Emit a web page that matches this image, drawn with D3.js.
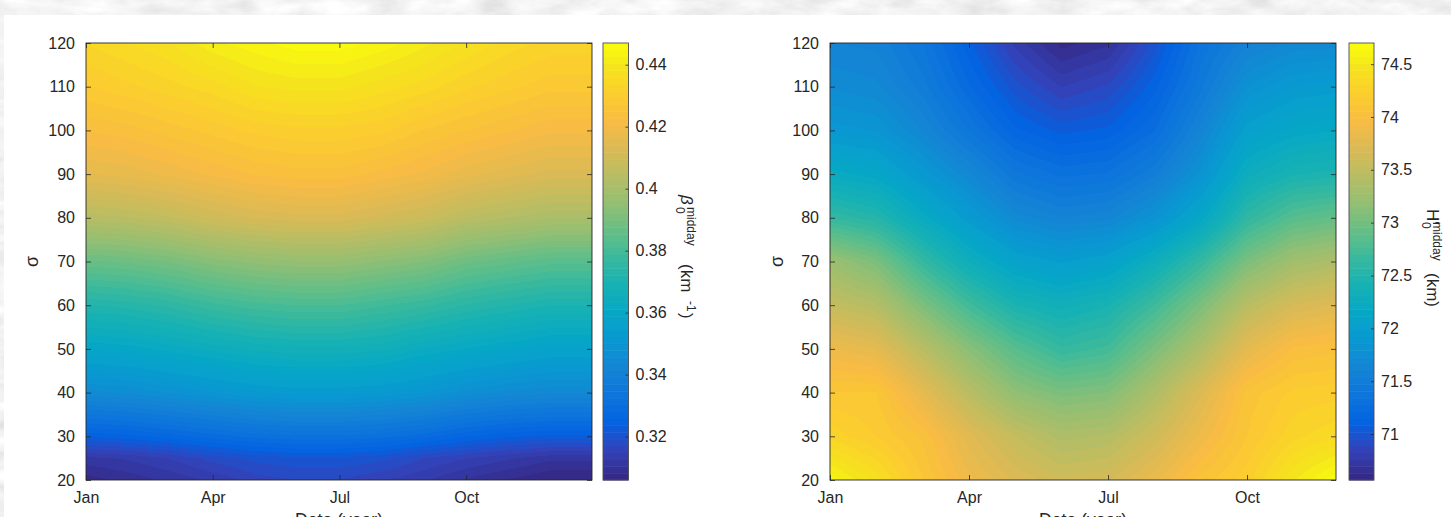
<!DOCTYPE html>
<html>
<head>
<meta charset="utf-8">
<script src="https://cdn.jsdelivr.net/npm/d3@7"></script>
<style>
  body { margin: 0; background: #fff; }
  svg text { font-family: 'Liberation Sans', Arial, sans-serif; fill: #262626; }
</style>
</head>
<body>
<div id="chart"></div>
<script>
'use strict';

// ---- data ----
var monthNodesBeta = [1, 2, 3, 4, 5, 6, 7, 8, 9, 10, 11, 12, 13];
var monthNodesH = [1, 2, 3, 4, 5, 6, 7, 8, 9, 10, 11, 12];
var sigmaNodesBeta = [20, 25, 30, 40, 50, 60, 70, 80, 90, 100, 110, 120];
var sigmaNodesH = [20, 30, 40, 50, 60, 70, 80, 90, 100, 110, 120];
var xTickMonths = [1, 4, 7, 10];
var xTickLabels = ['Jan', 'Apr', 'Jul', 'Oct'];
var sigmaTicks = [20, 30, 40, 50, 60, 70, 80, 90, 100, 110, 120];

// beta0 midday (km^-1), rows from sigma 20 upward, columns Jan..Jan
var betaRows = [
  [.307, .309, .311, .313, .316, .317, .317, .315, .313, .310, .308, .306, .306],
  [.312, .313, .315, .318, .320, .321, .321, .320, .317, .315, .313, .311, .311],
  [.324, .325, .327, .329, .331, .332, .332, .331, .329, .326, .324, .323, .323],
  [.345, .346, .348, .350, .352, .353, .353, .352, .350, .347, .345, .344, .344],
  [.359, .360, .362, .364, .366, .367, .367, .366, .363, .361, .359, .357, .357],
  [.372, .373, .375, .378, .380, .381, .381, .379, .377, .374, .372, .370, .370],
  [.387, .388, .390, .393, .395, .396, .396, .394, .392, .388, .386, .384, .384],
  [.404, .405, .407, .410, .412, .413, .413, .411, .409, .405, .403, .401, .401],
  [.416, .417, .419, .421, .423, .424, .424, .422, .420, .417, .415, .413, .413],
  [.423, .424, .426, .428, .430, .431, .431, .430, .427, .425, .423, .421, .421],
  [.429, .431, .433, .435, .438, .439, .439, .437, .435, .432, .430, .428, .428],
  [.434, .436, .438, .442, .444, .446, .446, .444, .441, .438, .435, .433, .433]
];

// H'0 midday (km), rows from sigma 20 upward, columns Jan..Dec
var hRows = [
  [74.62, 74.42, 74.12, 73.88, 73.72, 73.62, 73.66, 73.84, 74.08, 74.22, 74.50, 74.70],
  [74.29, 74.18, 74.04, 73.76, 73.54, 73.38, 73.42, 73.62, 73.88, 74.12, 74.29, 74.37],
  [74.12, 74.12, 73.80, 73.46, 73.17, 73.05, 73.09, 73.38, 73.72, 74.08, 74.20, 74.22],
  [73.87, 73.79, 73.46, 73.13, 72.84, 72.64, 72.72, 73.05, 73.38, 73.79, 74.00, 74.04],
  [73.54, 73.42, 73.06, 72.72, 72.44, 72.34, 72.43, 72.70, 73.05, 73.46, 73.67, 73.75],
  [73.25, 73.05, 72.64, 72.30, 72.06, 71.97, 72.05, 72.30, 72.64, 73.05, 73.29, 73.38],
  [72.63, 72.52, 72.22, 71.94, 71.70, 71.60, 71.64, 71.82, 72.14, 72.60, 72.84, 72.92],
  [72.22, 72.14, 71.90, 71.68, 71.42, 71.32, 71.35, 71.52, 71.82, 72.28, 72.43, 72.47],
  [71.89, 71.85, 71.66, 71.40, 71.16, 71.06, 71.10, 71.27, 71.62, 72.02, 72.14, 72.18],
  [71.72, 71.68, 71.50, 71.22, 70.98, 70.82, 70.90, 71.12, 71.45, 71.80, 71.92, 71.96],
  [71.60, 71.58, 71.40, 71.10, 70.80, 70.60, 70.68, 70.98, 71.35, 71.58, 71.68, 71.70]
];

var betaLimits = [0.306, 0.447];
var betaTicks = [0.32, 0.34, 0.36, 0.38, 0.4, 0.42, 0.44];
var hLimits = [70.565, 74.70];
var hTicks = [71, 71.5, 72, 72.5, 73, 73.5, 74, 74.5];

// parula colormap (MATLAB), stops at entries 0,4,...,60,63 of 64
var parulaIdx = [0, 4, 8, 12, 16, 20, 24, 28, 32, 36, 40, 44, 48, 52, 56, 60, 63];
var parulaHex = ['#352a87', '#3243ba', '#0363e1', '#0d75dc', '#1485d4', '#0998d1', '#06a7c6', '#16b1b4',
  '#38b99e', '#65be86', '#92bf73', '#b7bd64', '#d9ba56', '#f8bb44', '#fccd2e', '#f5e41d', '#f9fb0e'];

var parula = d3.scaleLinear()
  .domain(parulaIdx.map(function(i) { return i / 63; }))
  .range(parulaHex)
  .clamp(true);
var lut = d3.range(64).map(function(i) { return d3.rgb(parula(i / 63)); });

var FONT = "'Liberation Sans', Arial, sans-serif";
var INK = '#262626';

var svg = d3.select('#chart').append('svg')
  .attr('width', 1451)
  .attr('height', 517);

// marble-ish page background behind the white figure
var defs = svg.append('defs');
var marble = defs.append('filter').attr('id', 'marble')
  .attr('x', 0).attr('y', 0).attr('width', '100%').attr('height', '100%');
marble.append('feTurbulence')
  .attr('type', 'fractalNoise')
  .attr('baseFrequency', '0.025 0.06')
  .attr('numOctaves', 4)
  .attr('seed', 7);
marble.append('feColorMatrix')
  .attr('type', 'matrix')
  .attr('values', '0.22 0.22 0.22 0 0.56  0.22 0.22 0.22 0 0.56  0.22 0.22 0.22 0 0.56  0 0 0 0 1');
svg.append('rect').attr('width', 1451).attr('height', 517).attr('filter', 'url(#marble)');
svg.append('rect').attr('x', 4).attr('y', 15).attr('width', 1447).attr('height', 502).attr('fill', '#fff');

function styleAxis(g) {
  g.attr('font-family', FONT).attr('font-size', 16).attr('color', INK);
  g.select('.domain').remove();
  g.selectAll('.tick line').attr('stroke-width', 0.8);
}

function drawPanel(p) {
  var x = d3.scaleLinear().domain(p.xDomain).range([p.left, p.right]);
  var y = d3.scaleLinear().domain([20, 120]).range([p.bottom, p.top]);
  var cNorm = d3.scaleLinear().domain(p.limits).range([0, 1]).clamp(true);

  // heat map, shaded between grid nodes (like pcolor with interp shading)
  var w = Math.round(p.right - p.left), h = Math.round(p.bottom - p.top);
  var canvas = document.createElement('canvas');
  canvas.width = w;
  canvas.height = h;
  var ctx = canvas.getContext('2d');
  var img = ctx.createImageData(w, h);
  var nx = p.months.length, ny = p.sigmas.length;
  for (var j = 0; j < h; j++) {
    var s = y.invert(p.top + j + 0.5);
    var r = Math.min(Math.max(d3.bisectRight(p.sigmas, s) - 1, 0), ny - 2);
    var ty = (s - p.sigmas[r]) / (p.sigmas[r + 1] - p.sigmas[r]);
    for (var i = 0; i < w; i++) {
      var m = x.invert(p.left + i + 0.5);
      var k = Math.min(Math.max(d3.bisectRight(p.months, m) - 1, 0), nx - 2);
      var tx = (m - p.months[k]) / (p.months[k + 1] - p.months[k]);
      var v = (1 - ty) * ((1 - tx) * p.grid[r][k] + tx * p.grid[r][k + 1]) +
        ty * ((1 - tx) * p.grid[r + 1][k] + tx * p.grid[r + 1][k + 1]);
      var col = lut[Math.min(63, Math.floor(cNorm(v) * 64))];
      var o = (j * w + i) * 4;
      img.data[o] = col.r;
      img.data[o + 1] = col.g;
      img.data[o + 2] = col.b;
      img.data[o + 3] = 255;
    }
  }
  ctx.putImageData(img, 0, 0);
  svg.append('image')
    .attr('x', p.left).attr('y', p.top)
    .attr('width', w).attr('height', h)
    .attr('preserveAspectRatio', 'none')
    .attr('href', canvas.toDataURL());

  // axes, ticks inward on all four sides
  svg.append('g')
    .attr('transform', 'translate(0,' + p.bottom + ')')
    .call(d3.axisBottom(x).tickValues(xTickMonths)
      .tickFormat(function(d, i) { return xTickLabels[i]; })
      .tickSize(-5).tickPadding(12))
    .call(styleAxis);
  svg.append('g')
    .attr('transform', 'translate(0,' + p.top + ')')
    .call(d3.axisTop(x).tickValues(xTickMonths).tickFormat('').tickSize(-5))
    .call(styleAxis);
  svg.append('g')
    .attr('transform', 'translate(' + p.left + ',0)')
    .call(d3.axisLeft(y).tickValues(sigmaTicks).tickSize(-5).tickPadding(11))
    .call(styleAxis);
  svg.append('g')
    .attr('transform', 'translate(' + p.right + ',0)')
    .call(d3.axisRight(y).tickValues(sigmaTicks).tickFormat('').tickSize(-5))
    .call(styleAxis);

  svg.append('rect')
    .attr('x', p.left).attr('y', p.top)
    .attr('width', p.right - p.left).attr('height', p.bottom - p.top)
    .attr('fill', 'none').attr('stroke', INK).attr('stroke-width', 0.9);

  svg.append('text')
    .attr('transform', 'translate(' + p.yLabelX + ',' + ((p.top + p.bottom) / 2) + ') rotate(-90)')
    .attr('text-anchor', 'middle')
    .attr('dy', '0.35em')
    .style('font-size', '18px')
    .text('\u03c3');

  svg.append('text')
    .attr('x', (p.left + p.right) / 2)
    .attr('y', p.bottom + 46)
    .attr('text-anchor', 'middle')
    .style('font-size', '17.6px')
    .text('Date (year)');

  // colorbar
  var cy = d3.scaleLinear().domain(p.limits).range([p.bottom, p.top]);
  var span = p.limits[1] - p.limits[0];
  svg.append('g').selectAll('rect')
    .data(d3.range(64))
    .enter().append('rect')
    .attr('x', p.cbLeft)
    .attr('width', p.cbRight - p.cbLeft)
    .attr('y', function(d) { return cy(p.limits[0] + (d + 1) / 64 * span); })
    .attr('height', function(d) {
      return cy(p.limits[0] + d / 64 * span) - cy(p.limits[0] + (d + 1) / 64 * span) + 0.5;
    })
    .attr('fill', function(d) { return lut[d]; });

  svg.append('g')
    .attr('transform', 'translate(' + p.cbRight + ',0)')
    .call(d3.axisRight(cy).tickValues(p.ticks)
      .tickFormat(function(d) { return String(d); })
      .tickSize(-3).tickPadding(7))
    .call(styleAxis);

  svg.append('rect')
    .attr('x', p.cbLeft).attr('y', p.top)
    .attr('width', p.cbRight - p.cbLeft).attr('height', p.bottom - p.top)
    .attr('fill', 'none').attr('stroke', '#4d4d4d').attr('stroke-width', 0.9);

  // colorbar title, rotated to read downwards
  var lab = svg.append('g')
    .attr('transform', 'translate(' + p.cLabelX + ',' + p.cLabelY + ') rotate(90)');
  p.cLabel.forEach(function(piece) {
    lab.append('text')
      .attr('x', piece[0])
      .attr('y', piece[1])
      .style('font-size', piece[2] + 'px')
      .style('font-style', piece[4] ? 'italic' : 'normal')
      .text(piece[3]);
  });
}

drawPanel({
  left: 86, right: 592, top: 43, bottom: 480,
  xDomain: [1, 12.98],
  months: monthNodesBeta, sigmas: sigmaNodesBeta, grid: betaRows,
  limits: betaLimits, ticks: betaTicks,
  cbLeft: 603, cbRight: 628.5,
  yLabelX: 32,
  cLabelX: 681, cLabelY: 195,
  cLabel: [
    [0, 0, 17, '\u03b2', true],
    [12, 5, 12, '0'],
    [12, -6, 12, 'midday'],
    [69, 0, 17, '(km'],
    [106, -6, 12, '-1'],
    [118, 0, 17, ')']
  ]
});

drawPanel({
  left: 830, right: 1336, top: 43, bottom: 480,
  xDomain: [1, 11.92],
  months: monthNodesH, sigmas: sigmaNodesH, grid: hRows,
  limits: hLimits, ticks: hTicks,
  cbLeft: 1349, cbRight: 1374,
  yLabelX: 777,
  cLabelX: 1427, cLabelY: 209,
  cLabel: [
    [0, 0, 17, 'H\''],
    [13, 5, 12, '0'],
    [13, -6, 12, 'midday'],
    [64, 0, 17, '(km)']
  ]
});
</script>
</body>
</html>
